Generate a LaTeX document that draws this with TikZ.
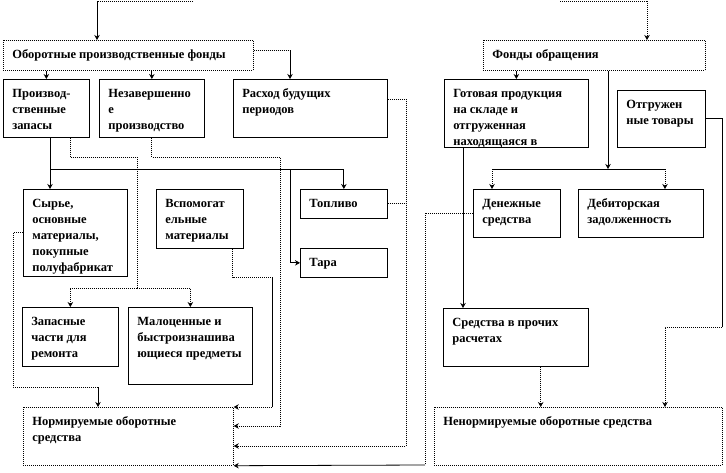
\documentclass[tikz,border=0pt]{standalone}
\usepackage{fontspec}
\setmainfont{Liberation Serif}
\usetikzlibrary{arrows.meta,calc}
\newcommand{\cell}[3]{\parbox[t][\dimexpr#2pt-16pt\relax][t]{\dimexpr#1pt-18pt\relax}{\raggedright\rule{0pt}{10pt}#3}}

\begin{document}
\begin{tikzpicture}[
  x=1pt, y=-1pt,
  box/.style={draw, line width=0.7pt, anchor=north west, inner xsep=9pt,
    inner ysep=8pt, font=\bfseries\fontsize{12.5}{16}\selectfont},
  dbox/.style={box, dash pattern=on 1pt off 1pt},
  link/.style={line width=0.8pt},
  dlink/.style={line width=0.8pt, dash pattern=on 1pt off 1pt},
  arrow/.style={link, -{Stealth[length=5pt,width=5.5pt]}},
  darrow/.style={dlink, -{Stealth[length=5pt,width=5.5pt]}},
]
  \useasboundingbox (0,0) rectangle (726,472);

  \node[dbox] (fundP)     at (3,40)    {\cell{250}{30}{Оборотные производственные фонды}};
  \node[box]  (zapasy)    at (3,79)    {\cell{86}{58}{Производ-\\ственные\\запасы}};
  \node[box]  (nezav)     at (99,79)   {\cell{105}{58}{Незавершенно\\е\\производство}};
  \node[box]  (rashod)    at (233,79)  {\cell{154}{58}{Расход будущих\\периодов}};
  \node[box]  (syrie)     at (23,189)  {\cell{104}{87}{Сырье,\\основные\\материалы,\\покупные\\полуфабрикат}};
  \node[box]  (vspom)     at (156,189) {\cell{87}{59}{Вспомогат\\ельные\\материалы}};
  \node[box]  (toplivo)   at (300,189) {\cell{87}{29}{Топливо}};
  \node[box]  (tara)      at (300,248) {\cell{87}{29}{Тара}};
  \node[box]  (zapchasti) at (22,307)  {\cell{96}{59}{Запасные\\части для\\ремонта}};
  \node[box]  (malocen)   at (128,307) {\cell{124}{77}{Малоценные и\\быстроизнашива\\ющиеся предметы}};
  \node[dbox] (norm)      at (23,407)  {\cell{210}{58}{Нормируемые оборотные\\средства}};

  \node[dbox] (fundO)     at (483,40)  {\cell{222}{30}{Фонды обращения}};
  \node[box]  (gotov)     at (444,79)  {\cell{144}{68}{Готовая продукция\\на складе и\\отгруженная\\находящаяся в}};
  \node[box]  (otgr)      at (617,90)  {\cell{88}{57}{Отгружен\\ные товары}};
  \node[box]  (den)       at (473,189) {\cell{87}{48}{Денежные\\средства}};
  \node[box]  (debit)     at (578,189) {\cell{125}{48}{Дебиторская\\задолженность}};
  \node[box]  (prochie)   at (443,308) {\cell{145}{58}{Средства в прочих\\расчетах}};
  \node[dbox] (nenorm)    at (434,407) {\cell{288}{58}{Ненормируемые оборотные средства}};

  \coordinate (topL) at (97,1);
  \coordinate (inL)  at (193,1);
  \coordinate (topR) at (647,1);
  \coordinate (inR)  at (560,1);
  \draw[dlink] (inL) -- (topL);
  \draw[arrow] (topL) -- (topL |- fundP.north);
  \draw[dlink] (inR) -- (topR);
  \draw[darrow] (topR) -- (topR |- fundO.north);

  \draw[arrow] (fundP.south -| zapasy.north) -- (zapasy.north);
  \draw[arrow] (fundP.south -| nezav.north) -- (nezav.north);
  \coordinate (c1) at (290,50);
  \draw[dlink] (fundP.east |- c1) -- (c1);
  \draw[arrow] (c1) -- (c1 |- rashod.north);

  \coordinate (b1) at (50,169);
  \draw[arrow] (zapasy.south -| b1) -- (b1 |- syrie.north);
  \draw[arrow] (b1) -| (toplivo.north);
  \draw[arrow] (b1 -| c1) |- (tara.west);

  \coordinate (d1) at (70,157);
  \coordinate (b2) at (137,288);
  \draw[dlink] (zapasy.south -| d1) -- (d1) -| (b2);
  \draw[darrow] (b2) -| (zapchasti.north);
  \draw[darrow] (b2) -| (malocen.north);

  \coordinate (d2) at (280,157);
  \draw[darrow] (nezav.south) |- (d2) |- ($(norm.north east)+(0,19)$);

  \coordinate (d3) at (272,277);
  \coordinate (v1) at ([xshift=-11pt]vspom.south east);
  \draw[dlink] (v1) |- (d3);
  \draw[link] (d3) -- (d3 |- norm.north east);
  \draw[darrow] (d3 |- norm.north east) -- (norm.north east);

  \coordinate (d4) at (406,99);
  \draw[darrow] (rashod.east |- d4) -- (d4) |- ($(norm.north east)+(0,39)$);
  \draw[dlink] (toplivo.east) -- (toplivo.east -| d4);

  \coordinate (d5) at (13,387);
  \coordinate (d6) at (98,387);
  \draw[dlink] (syrie.west) -| (d5) -- (d6);
  \draw[arrow] (d6) -- (d6 |- norm.north);

  \coordinate (d7) at (425,465);
  \draw[dlink] (den.west) -| (d7);
  \draw[arrow] (d7) -- (norm.south east);

  \draw[arrow] (fundO.south -| gotov.north) -- (gotov.north);
  \coordinate (e1) at (608,169);
  \coordinate (e2) at (492,169);
  \coordinate (e3) at (665,169);
  \draw[arrow] (fundO.south -| e1) -- (e1);
  \draw[link] (e2) -- (e3);
  \draw[darrow] (e2) -- (e2 |- den.north);
  \draw[darrow] (e3) -- (e3 |- debit.north);

  \coordinate (e5) at ([xshift=19pt]gotov.south west);
  \draw[arrow] (e5) -- (e5 |- prochie.north);
  \coordinate (e4) at ([xshift=-48pt]prochie.south east);
  \draw[darrow] (e4) -- (e4 |- nenorm.north);

  \coordinate (e6) at (722,327);
  \draw[link] (otgr.east) -| (e6);
  \draw[darrow] (e6) -| (e3 |- nenorm.north);
\end{tikzpicture}
\end{document}
